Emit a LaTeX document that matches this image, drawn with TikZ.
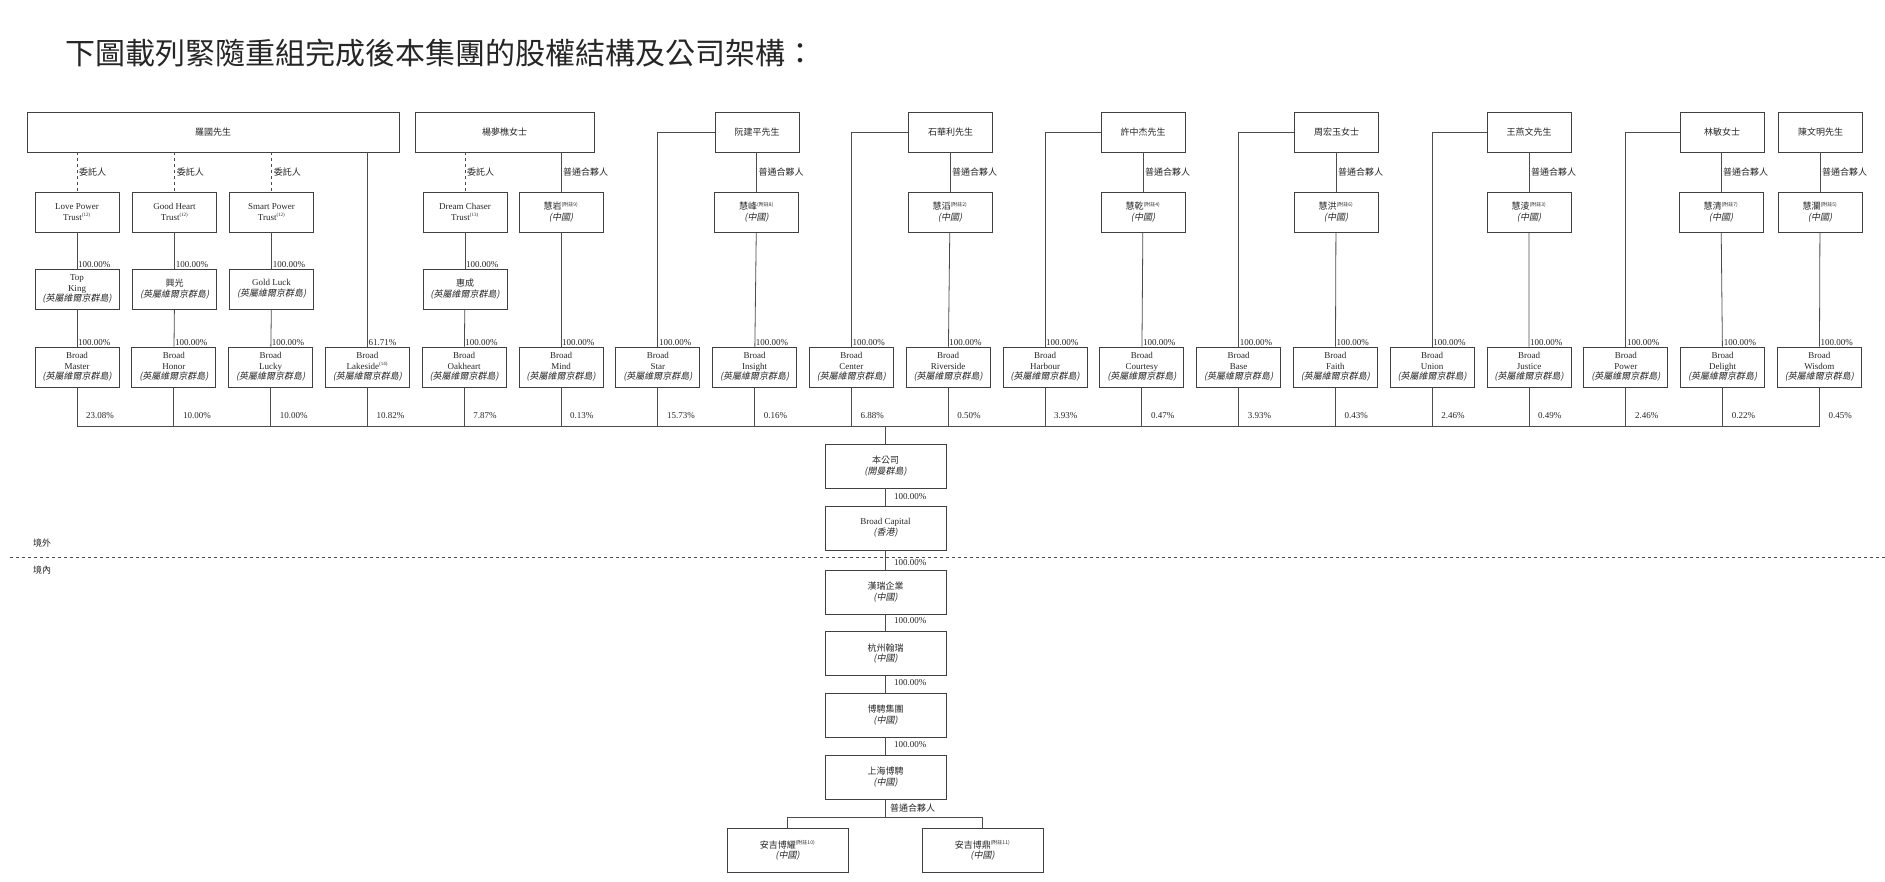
\documentclass[tikz,border=0pt]{standalone}
\usepackage{fontspec}
\setmainfont{Liberation Serif}
\newfontfamily\cjk{Noto Sans CJK TC}
\newfontfamily\cjki{Noto Sans CJK TC}[FakeSlant=0.2]
\newcommand{\zh}[1]{{\cjk #1}}
\newcommand{\zhi}[1]{{\cjki #1}}
\newcommand{\bvi}{\zhi{(英屬維爾京群島)}}
\newcommand{\cn}{\zhi{(中國)}}
\newcommand{\fn}[1]{\textsuperscript{\cjk\tiny (附註#1)}}
\begin{document}
\begin{tikzpicture}[x=1pt,y=-1pt,
  every node/.style={font=\fontsize{9}{10.5}\selectfont, text=black!85},
  box/.style={draw=black!75, line width=0.8pt, minimum width=84pt, minimum height=40pt, inner sep=1pt, align=center},
  big/.style={box, minimum width=121pt, minimum height=44pt},
  ln/.style={draw=black!70, line width=0.8pt},
  dl/.style={ln, dashed},
  lab/.style={font=\fontsize{9}{10}\selectfont, inner sep=1pt},
  zlab/.style={lab, anchor=west, font=\fontsize{9}{10}\selectfont\cjk}]
\useasboundingbox (0,0) rectangle (1885,881);
\node[anchor=west, font=\fontsize{30}{32}\selectfont\cjk] (title) at (62,53) {下圖載列緊隨重組完成後本集團的股權結構及公司架構：};
% persons
\node[box, minimum width=372pt] (pL) at (213,132) {\zh{羅國先生}};
\node[box, minimum width=179pt] (pY) at (504.5,132) {\zh{楊夢樵女士}};
\node[box] (pR) at (757,132) {\zh{阮建平先生}};
\node[box] (pS) at (950.5,132) {\zh{石華利先生}};
\node[box] (pX) at (1143,132) {\zh{許中杰先生}};
\node[box] (pZ) at (1336.5,132) {\zh{周宏玉女士}};
\node[box] (pW) at (1529,132) {\zh{王燕文先生}};
\node[box] (pN) at (1722,132) {\zh{林敏女士}};
\node[box] (pC) at (1820.5,132) {\zh{陳文明先生}};
% trusts / GPs
\node[box] (t0) at (77,212) {Love Power\\Trust\textsuperscript{\tiny(12)}};
\node[box] (t1) at (174.6,212) {Good Heart\\Trust\textsuperscript{\tiny(12)}};
\node[box] (t2) at (271.6,212) {Smart Power\\Trust\textsuperscript{\tiny(12)}};
\node[box] (t4) at (465,212) {Dream Chaser\\Trust\textsuperscript{\tiny(13)}};
\node[box] (g5) at (561,212) {\zh{慧岩}\fn{9}\\\cn};
\node[box] (g7) at (756.5,212) {\zh{慧峰}\fn{8}\\\cn};
\node[box] (g9) at (950,212) {\zh{慧滔}\fn{2}\\\cn};
\node[box] (g11) at (1143,212) {\zh{慧乾}\fn{4}\\\cn};
\node[box] (g13) at (1336,212) {\zh{慧洪}\fn{6}\\\cn};
\node[box] (g15) at (1529,212) {\zh{慧淩}\fn{3}\\\cn};
\node[box] (g17) at (1721,212) {\zh{慧清}\fn{7}\\\cn};
\node[box] (g18) at (1820,212) {\zh{慧瀾}\fn{5}\\\cn};
% middle
\node[box] (m0) at (77,289) {Top\\King\\\bvi};
\node[box] (m1) at (174.6,289) {\zh{興光}\\\bvi};
\node[box] (m2) at (271.6,289) {Gold Luck\\\bvi};
\node[box] (m4) at (465,289) {\zh{惠成}\\\bvi};
% bottom row
\coordinate (busL) at (77,426);
\coordinate (busR) at (1820,426);
\foreach \i/\nm/\pct in {0/Master/23.08\%,1/Honor/10.00\%,2/Lucky/10.00\%,3/Lakeside\textsuperscript{\tiny(14)}/10.82\%,4/Oakheart/7.87\%,5/Mind/0.13\%,6/Star/15.73\%,7/Insight/0.16\%,8/Center/6.88\%,9/Riverside/0.50\%,10/Harbour/3.93\%,11/Courtesy/0.47\%,12/Base/3.93\%,13/Faith/0.43\%,14/Union/2.46\%,15/Justice/0.49\%,16/Power/2.46\%,17/Delight/0.22\%,18/Wisdom/0.45\%}{
  \node[box] (b\i) at ({77+96.8*\i},367) {Broad\\\nm\\\bvi};
  \draw[ln] (b\i.south) -- (b\i.south |- busL);
  \node[lab, anchor=west] (q\i) at ({77+96.8*\i+8},416) {\pct};
}
\draw[ln] (busL) -- (busR);
\foreach \i in {0,1,2,4,5,6,7,8,9,10,11,12,13,14,15,16,17,18}{
  \node[lab, anchor=south west] (u\i) at (b\i.north) {100.00\%};
}
\node[lab, anchor=south west] (u3) at (b3.north) {61.71\%};
\foreach \i in {0,1,2,4}{
  \node[lab, anchor=south west] (v\i) at (m\i.north) {100.00\%};
  \draw[ln] (t\i) -- (m\i);
  \draw[ln] (m\i) -- (b\i);
}
\foreach \i in {0,1,2}{
  \draw[dl] (pL.south -| t\i) -- (t\i.north);
}
\draw[dl] (pY.south -| t4) -- (t4.north);
\foreach \i in {0,1,2,4}{
  \node[zlab] (w\i) at ([xshift=1pt,yshift=20pt]t\i.north) {委託人};
}
\draw[ln] (pL.south -| b3) -- (b3.north);
% GP links
\foreach \p/\g in {pY/g5,pR/g7,pS/g9,pX/g11,pZ/g13,pW/g15,pN/g17,pC/g18}{
  \draw[ln] (\p.south -| \g) -- (\g.north);
  \node[zlab] at ([xshift=1pt,yshift=20pt]\g.north) {普通合夥人};
}
\foreach \g/\b in {g5/b5,g7/b7,g9/b9,g11/b11,g13/b13,g15/b15,g17/b17,g18/b18}{
  \draw[ln] (\g) -- (\b);
}
\foreach \p/\b in {pR/b6,pS/b8,pX/b10,pZ/b12,pW/b14,pN/b16}{
  \draw[ln] (\p.west) -| (\b.north);
}
% lower chain
\node[big] (co) at (885.5,466) {\zh{本公司}\\\zhi{(開曼群島)}};
\node[big] (bc) at (885.5,528) {Broad Capital\\\zhi{(香港)}};
\node[big] (hr) at (885.5,592) {\zh{漢瑞企業}\\\cn};
\node[big] (hz) at (885.5,653.5) {\zh{杭州翰瑞}\\\cn};
\node[big] (bj) at (885.5,715) {\zh{博騁集團}\\\cn};
\node[big] (sh) at (885.5,777) {\zh{上海博騁}\\\cn};
\node[big] (a1) at (787.5,850.5) {\zh{安吉博耀}\fn{10}\\\cn};
\node[big] (a2) at (982.5,850.5) {\zh{安吉博鼎}\fn{11}\\\cn};
\coordinate (cotop) at (885.5,426);
\draw[ln] (cotop) -- (co.north);
\draw[ln] (co) -- (bc);
\draw[ln] (bc) -- (hr);
\draw[ln] (hr) -- (hz);
\draw[ln] (hz) -- (bj);
\draw[ln] (bj) -- (sh);
\coordinate (split) at (885.5,817);
\draw[ln] (sh.south) -- (split);
\draw[ln] (split) -| (a1.north);
\draw[ln] (split) -| (a2.north);
\node[lab, anchor=west] at (893,497) {100.00\%};
\node[lab, anchor=west] at (893,563) {100.00\%};
\node[lab, anchor=west] at (893,621) {100.00\%};
\node[lab, anchor=west] at (893,683) {100.00\%};
\node[lab, anchor=west] at (893,745) {100.00\%};
\node[zlab] at (889,808) {普通合夥人};
% border line
\coordinate (dL) at (10,557);
\coordinate (dR) at (1885,557);
\draw[dl] (dL) -- (dR);
\node[zlab] at (32,543) {境外};
\node[zlab] at (32,570) {境內};
\end{tikzpicture}
\end{document}
